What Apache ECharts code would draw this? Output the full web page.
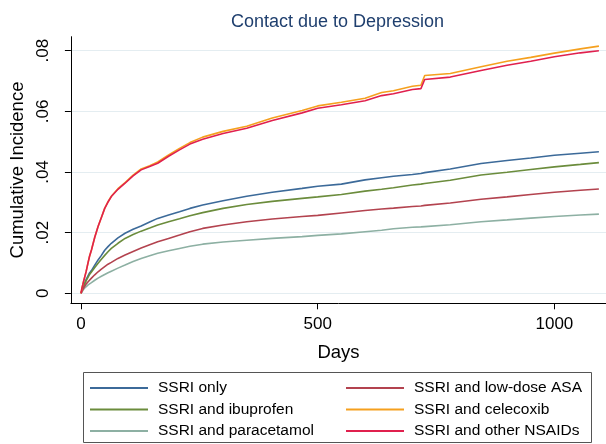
<!DOCTYPE html>
<html>
<head>
<meta charset="utf-8">
<script src="https://cdn.jsdelivr.net/npm/echarts@6/dist/echarts.min.js"></script>
<style>
  html, body { margin: 0; padding: 0; background: #fff; }
  #chart { width: 606px; height: 444px; }
</style>
</head>
<body>
<div id="chart"></div>
<script>
// Days at which the curves were read
var days = [0, 2, 4, 6, 8, 11, 15, 18, 22, 29, 36, 43, 50, 57, 64, 78, 93, 110, 127, 145, 162, 185, 208, 230, 257, 300, 350, 404, 467, 500, 550, 600, 635, 660, 700, 718, 726, 780, 845, 900, 950, 1000, 1055, 1094];

var ssriOnly    = [0, .001, .002, .0028, .0035, .0046, .0058, .0067, .0075, .0093, .011, .0125, .0142, .0154, .0165, .0183, .0198, .0211, .0222, .0235, .0247, .0258, .0269, .028, .0291, .0305, .032, .0333, .0346, .0353, .036, .0374, .0381, .0386, .0392, .0395, .0398, .041, .0428, .0438, .0446, .0455, .0462, .0467];
var ibuprofen   = [0, .0009, .0018, .0025, .0032, .0042, .0053, .0062, .007, .0085, .0099, .0112, .0125, .0137, .0148, .0165, .0181, .0194, .0205, .0215, .0225, .0236, .0246, .0256, .0266, .028, .0293, .0303, .0313, .0318, .0326, .0337, .0343, .0348, .0357, .036, .0362, .0373, .039, .0399, .0408, .0417, .0425, .0431];
var paracetamol = [0, .0005, .001, .0014, .0018, .0023, .0028, .0032, .0035, .0043, .005, .0056, .0062, .0068, .0073, .0083, .0093, .0105, .0115, .0124, .0132, .014, .0148, .0155, .0162, .0169, .0175, .0181, .0187, .0191, .0196, .0203, .0208, .0213, .0218, .0219, .022, .0226, .0236, .0242, .0248, .0253, .0258, .0261];
var lowDoseASA  = [0, .0007, .0013, .0019, .0024, .0031, .0038, .0044, .005, .0061, .0071, .008, .0088, .0096, .0102, .0115, .0126, .0138, .0149, .016, .017, .0181, .0192, .0203, .0214, .0225, .0236, .0245, .0253, .0257, .0265, .0273, .0278, .0281, .0286, .0288, .029, .0298, .031, .0318, .0326, .0333, .034, .0344];
var celecoxib   = [0, .0018, .003, .0043, .0055, .0073, .0102, .0122, .0143, .0185, .022, .025, .028, .0302, .032, .0345, .0365, .039, .041, .0421, .0433, .0456, .0478, .0497, .0515, .0534, .0551, .0578, .0603, .0618, .063, .0643, .0662, .0668, .0683, .0686, .0718, .0725, .0747, .0765, .0778, .0792, .0806, .0815];
var otherNSAIDs = [0, .0018, .003, .0043, .0055, .0073, .0102, .0122, .0143, .0185, .022, .025, .028, .0301, .0319, .0343, .0363, .0387, .0407, .0418, .0429, .0452, .0473, .0492, .0508, .0527, .0544, .057, .0595, .061, .0622, .0635, .0652, .0658, .0672, .0675, .0705, .0713, .0735, .0752, .0765, .078, .0793, .080];

var seriesNames = ['SSRI only', 'SSRI and ibuprofen', 'SSRI and paracetamol', 'SSRI and low-dose ASA', 'SSRI and celecoxib', 'SSRI and other NSAIDs'];
var seriesValues = [ssriOnly, ibuprofen, paracetamol, lowDoseASA, celecoxib, otherNSAIDs];
var seriesColors = ['#3c6a99', '#6b8c3c', '#8db0a3', '#b3434f', '#f5a01e', '#e0204e'];

var yTicks = [0, 0.02, 0.04, 0.06, 0.08];
var yTickLabels = ['0', '.02', '.04', '.06', '.08'];
var xTicks = [0, 500, 1000];
var xTickLabels = ['0', '500', '1000'];

var FONT = '"Liberation Sans", Arial, sans-serif';

function pairs(vals) {
  return days.map(function (d, i) { return [d, vals[i]]; });
}

var series = seriesNames.map(function (name, i) {
  return {
    name: name,
    type: 'line',
    data: pairs(seriesValues[i]),
    showSymbol: false,
    symbol: 'none',
    animation: false,
    lineStyle: { width: 1.6, color: seriesColors[i] },
    itemStyle: { color: seriesColors[i] }
  };
});

var chart = echarts.init(document.getElementById('chart'), null, { renderer: 'canvas' });
chart.setOption({
  backgroundColor: '#ffffff',
  animation: false,
  title: {
    text: 'Contact due to Depression',
    left: 231,
    top: 13,
    padding: 0,
    textStyle: { fontFamily: FONT, fontSize: 18, fontWeight: 'normal', color: '#1f3f6e' }
  },
  grid: { left: 67.5, right: 0, top: 36.7, bottom: 140.7, containLabel: false },
  xAxis: {
    type: 'value',
    min: -21.4,
    max: 1109,
    name: 'Days',
    nameLocation: 'middle',
    nameGap: 40,
    nameTextStyle: { fontFamily: FONT, fontSize: 18.5, color: '#000' },
    axisLine: { show: true, onZero: false, lineStyle: { color: '#000', width: 1 } },
    axisTick: { show: true, customValues: xTicks, length: 6, lineStyle: { color: '#000' } },
    axisLabel: {
      customValues: xTicks,
      margin: 13,
      fontFamily: FONT, fontSize: 17, color: '#000',
      formatter: function (v) { var k = xTicks.indexOf(v); return k >= 0 ? xTickLabels[k] : ''; }
    },
    splitLine: { show: false }
  },
  yAxis: {
    type: 'value',
    min: -0.0033,
    max: 0.08462,
    name: 'Cumulative Incidence',
    nameLocation: 'middle',
    nameGap: 40,
    nameTextStyle: { fontFamily: FONT, fontSize: 18.5, color: '#000' },
    axisLine: { show: true, onZero: false, lineStyle: { color: '#000', width: 1 } },
    axisTick: { show: true, customValues: yTicks, length: 6, lineStyle: { color: '#000' } },
    axisLabel: {
      customValues: yTicks,
      rotate: 90,
      margin: 19,
      fontFamily: FONT, fontSize: 17, color: '#000',
      formatter: function (v) {
        for (var k = 0; k < yTicks.length; k++) { if (Math.abs(yTicks[k] - v) < 1e-9) return yTickLabels[k]; }
        return '';
      }
    },
    splitLine: { show: true, customValues: yTicks, lineStyle: { color: '#e4edf1', width: 1.2 } }
  },
  legend: [
    {
      data: seriesNames.slice(0, 3),
      orient: 'vertical',
      left: 90,
      top: 380,
      padding: 0,
      itemGap: 5.5,
      itemWidth: 58,
      itemHeight: 2,
      icon: 'rect',
      selectedMode: false,
      textStyle: { fontFamily: FONT, fontSize: 15.5, color: '#000', lineHeight: 16, padding: [0, 0, 0, 5] }
    },
    {
      data: seriesNames.slice(3, 6),
      orient: 'vertical',
      left: 346,
      top: 380,
      padding: 0,
      itemGap: 5.5,
      itemWidth: 58,
      itemHeight: 2,
      icon: 'rect',
      selectedMode: false,
      textStyle: { fontFamily: FONT, fontSize: 15.5, color: '#000', lineHeight: 16, padding: [0, 0, 0, 5] }
    }
  ],
  graphic: [
    {
      type: 'rect',
      shape: { x: 83.5, y: 372.5, width: 508, height: 70 },
      style: { fill: 'none', stroke: '#555', lineWidth: 1 },
      silent: true,
      z: -1
    }
  ],
  series: series
});
</script>
</body>
</html>
